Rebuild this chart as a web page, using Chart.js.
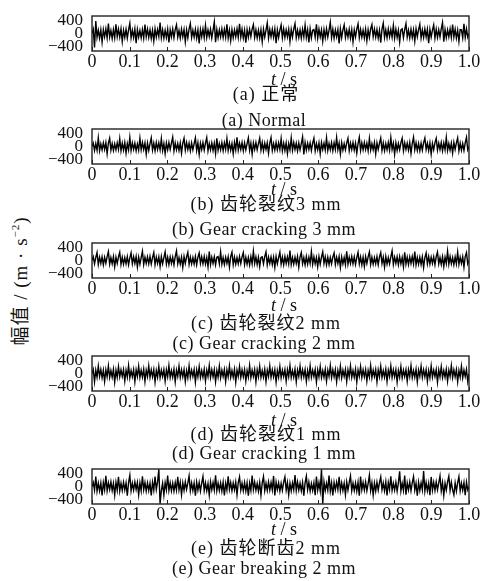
<!DOCTYPE html>
<html>
<head>
<meta charset="utf-8">
<script src="https://cdn.jsdelivr.net/npm/chart.js@4.4.0/dist/chart.umd.min.js"></script>
<style>
  body { margin: 0; background: #fff; }
  #fig {
    position: relative; width: 490px; height: 581px; overflow: hidden;
    font-family: 'Liberation Serif', 'Noto Sans CJK SC', serif; color: #111;
  }
  #fig canvas { position: absolute; left: 0; }
  .cap { position: absolute; white-space: nowrap; text-align: center; line-height: 20px; }
  .cap.unit { font-size: 18px; left: 0; width: 568px; }
  .cap.zh { font-size: 18px; letter-spacing: 1px; left: 0; width: 532px; }
  .cap.en { font-size: 18px; letter-spacing: 0.5px; left: 0; width: 528px; }
  #ytitle {
    position: absolute; left: 18px; top: 281px; font-size: 19px; letter-spacing: 1px; white-space: nowrap;
    transform: translate(-50%, -50%) rotate(-90deg);
  }
  #ytitle sup { font-size: 11px; }
</style>
</head>
<body>
<div id="fig">
  <div id="ytitle">幅值 / (m · s<sup>−2</sup>)</div>
</div>
<script>
// tick values
const xTicks = [0, 0.1, 0.2, 0.3, 0.4, 0.5, 0.6, 0.7, 0.8, 0.9, 1.0];
const yTicks = [400, 0, -400];

const titlesZh = ['(a)  正常', '(b)  齿轮裂纹3 mm', '(c)  齿轮裂纹2 mm', '(d)  齿轮裂纹1 mm', '(e)  齿轮断齿2 mm'];
const titlesEn = ['(a)  Normal', '(b)  Gear cracking 3 mm', '(c)  Gear cracking 2 mm', '(d)  Gear cracking 1 mm', '(e)  Gear breaking 2 mm'];

// acceleration samples, 300 per second
const normalData = [
  0, 130, -420, 380, -120, 100, -140, 110, -260, 120, -100, 140, -130, 300, -110, 90, -150, 120, -130, 280,
  -100, 130, -110, 140, -240, 100, -120, 130, -140, 110, 310, -130, 100, -120, 140, -290, 120, -110, 90, -130,
  120, -140, 270, -100, 130, -120, 110, -150, 100, -230, 140, -110, 120, -90, 330, -130, 110, -140, 100, -120,
  130, -270, 110, -100, 140, -130, 120, 260, -110, 90, -140, 130, -100, 120, -250, 110, -130, 140, 300, -120,
  100, -110, 130, -140, 110, -300, 120, -100, 140, -130, 240, -120, 110, -90, 130, -140, 100, 350, -260, 120,
  -130, 110, -100, 140, -120, 130, -110, 280, -140, 100, -220, 120, -130, 110, -100, 140, -120, 290, -110, 130,
  -140, 100, -280, 120, -110, 130, -90, 140, 270, -120, 110, -130, 100, -140, 120, -250, 130, -110, 100, 320,
  -140, 120, -100, 130, -110, 140, -290, 110, -120, 100, 260, -130, 140, -120, 110, -100, 130, -240, 120, -110,
  140, 300, -130, 100, -120, 110, -140, 130, -100, 250, -120, 110, -270, 140, -130, 100, 120, -110, 280, -140,
  130, -100, 110, -230, 120, -130, 140, -110, 100, 340, -120, 130, -140, 110, -100, 120, -300, 140, -130, 110,
  260, -120, 100, -110, 130, -140, 120, -250, 110, -100, 140, 290, -130, 120, -110, 100, -140, 130, -220, 110,
  -120, 140, 270, -100, 130, -110, 120, -140, 100, -280, 130, 310, -120, 110, -130, 140, -100, 120, -110, 240,
  -140, 130, -120, 100, -260, 110, 140, -130, 120, 300, -110, 100, -140, 130, -120, 110, -230, 140, -100, 120,
  280, -130, 110, -120, 140, -100, 130, -290, 120, -110, 100, 260, -140, 130, -120, 110, -100, 140, 330, -250,
  120, -130, 110, -100, 140, -120, 270, -110, 130, -140, 100, -240, 120, 110, -130, 290, -120, 140, -110, 0
];
const crack3Data = [
  0, 100, -120, 90, -110, 260, -130, 80, -100, 110, -90, 120, -220, 100, 250, -110, 90, -120, 80, -100,
  110, -90, 240, -130, 100, -110, 120, -200, 90, -100, 270, -120, 110, -90, 100, -130, 80, -110, 250, -100,
  120, -90, 110, -230, 100, -120, 90, 260, -110, 100, -130, 120, -90, 110, -100, 240, -120, 90, -210, 110,
  -100, 120, -90, 100, 280, -130, 110, -100, 90, -120, 110, -200, 100, 250, -110, 120, -90, 100, -130, 110,
  -100, 90, 260, -120, 110, -240, 100, -90, 120, -110, 100, 270, -130, 90, -100, 110, -120, 100, -210, 250,
  -110, 90, -100, 120, -130, 110, -90, 240, -120, 100, -110, 90, -220, 120, -100, 280, -110, 100, -90, 120,
  -130, 110, -100, 90, 260, -120, 100, -230, 110, -90, 120, -100, 90, 250, -110, 120, -130, 100, -90, 110,
  -200, 100, 270, -120, 90, -110, 120, -100, 110, -90, 240, -130, 100, -120, 110, -210, 90, -100, 260, -110,
  120, -90, 100, -130, 110, -100, 90, 290, -240, 120, -110, 100, -90, 110, -120, 100, 250, -130, 90, -100,
  110, -220, 120, -90, 100, -110, 260, -120, 90, -100, 120, -130, 110, -90, 270, -100, 100, -230, 120, -110,
  90, -100, 110, 250, -130, 100, -90, 120, -110, 100, -200, 90, 280, -120, 110, -100, 120, -90, 100, -130,
  240, -110, 90, -100, 120, -220, 110, -90, 100, 260, -120, 110, -130, 90, -100, 120, -110, 270, -90, 100,
  -240, 110, -120, 90, -100, 120, 250, -130, 110, -90, 100, -110, 120, -210, 90, 280, -100, 110, -120, 90,
  -130, 100, -110, 120, 260, -90, 100, -120, 110, -230, 90, -100, 120, 250, -110, 100, -90, 120, -130, 110,
  -100, 270, -120, 90, -110, 100, -200, 120, -90, 110, 260, -130, 100, -110, 90, -120, 110, 280, -100, 0
];
const crack2Data = [
  0, 110, -100, 90, 240, -120, 100, -90, 110, -130, 100, -80, 120, 270, -110, 90, -100, 120, -190, 100,
  -90, 110, 250, -120, 100, -110, 90, -100, 120, -130, 80, 230, -100, 110, -90, 120, -200, 100, -110, 90,
  280, -120, 100, -90, 110, -100, 120, -110, 90, 240, -130, 100, -90, 110, -180, 120, -100, 90, 260, -110,
  100, -120, 110, -90, 100, -130, 120, 290, -100, 90, -110, 100, -210, 120, -90, 110, 250, -120, 100, -100,
  90, -110, 120, -130, 100, 230, -90, 110, -100, 120, -110, 90, -190, 270, -120, 100, -90, 110, -130, 100,
  120, -100, 260, -110, 90, -120, 100, -90, 110, -200, 120, 250, -130, 100, -110, 90, -100, 120, -90, 110,
  240, -120, 100, -110, 90, -130, 120, -100, 280, -90, 110, -120, 100, -180, 90, 110, -100, 120, 260, -130,
  100, -90, 110, -120, 100, -210, 120, -100, 90, 250, -110, 100, -130, 120, -90, 110, -100, 300, -120, 90,
  -110, 100, -90, 120, -200, 110, 240, -100, 90, -130, 120, -110, 100, -90, 270, -120, 110, -100, 90, -190,
  120, -110, 100, 260, -90, 110, -130, 100, -120, 90, -100, 110, 230, -120, 100, -90, 120, -210, 110, -100,
  90, -130, 280, -110, 100, -90, 120, -100, 110, -120, 90, 250, -100, 110, -130, 100, -180, 120, -90, 110,
  260, -120, 100, -110, 90, -100, 120, -130, 110, 240, -90, 100, -200, 120, -110, 90, -100, 110, 290, -120,
  100, -90, 110, -130, 120, -100, 90, -190, 250, -110, 100, -120, 110, -90, 120, -100, 270, -130, 90, -110,
  100, -120, 110, -210, 90, 230, -100, 120, -110, 100, -90, 110, -130, 120, 260, -100, 90, -120, 110, -180,
  100, -90, 280, -110, 120, -100, 90, -130, 110, -100, 250, -120, 100, -90, 110, -200, 120, 240, -100, 0
];
const crack1Data = [
  0, 120, -250, 100, -110, 220, -90, 120, -130, 100, -240, 110, -100, 230, -120, 90, -110, 130, -260, 100,
  -120, 210, -100, 110, -90, 120, -230, 100, -110, 240, -130, 90, -100, 120, -250, 110, -90, 220, -120, 100,
  -110, 130, -240, 100, -90, 230, -120, 110, -100, 120, -260, 90, -110, 210, -130, 100, -90, 120, -230, 110,
  -100, 240, -120, 90, -110, 130, -250, 100, -90, 220, -120, 110, -100, 120, -240, 90, -130, 230, -110, 100,
  -90, 120, -260, 110, -100, 210, -120, 90, -110, 130, -230, 100, -90, 240, -120, 110, -100, 120, -250, 90,
  -110, 220, -130, 100, -90, 120, -240, 110, -100, 230, -120, 90, -110, 130, -260, 100, -90, 210, -120, 110,
  -100, 120, -230, 90, -110, 240, -130, 100, -90, 120, -250, 110, -100, 220, -120, 90, -110, 130, -240, 100,
  -90, 230, -120, 110, -100, 120, -260, 90, -110, 210, -130, 100, -90, 120, -230, 110, -100, 240, -120, 90,
  -110, 130, -250, 100, -90, 220, -120, 110, -100, 120, -240, 90, -130, 230, -110, 100, -90, 120, -260, 110,
  -100, 210, -120, 90, -110, 130, -230, 100, -90, 240, -120, 110, -100, 120, -250, 90, -110, 220, -130, 100,
  -90, 120, -240, 110, -100, 230, -120, 90, -110, 130, -260, 100, -90, 210, -120, 110, -100, 120, -230, 90,
  -110, 240, -130, 100, -90, 120, -250, 110, -100, 220, -120, 90, -110, 130, -240, 100, -90, 230, -120, 110,
  -100, 120, -260, 90, -110, 210, -130, 100, -90, 120, -230, 110, -100, 240, -120, 90, -110, 130, -250, 100,
  -90, 220, -120, 110, -100, 120, -240, 90, -130, 230, -110, 100, -90, 120, -260, 110, -100, 210, -120, 90,
  -110, 130, -230, 100, -90, 240, -120, 110, -100, 120, -250, 90, -110, 220, -130, 100, -90, 120, -240, 0
];
const breakData = [
  0, 120, -110, 300, -140, 100, -130, 110, -270, 120, -100, 320, -130, 110, -90, 140, -120, 100, -260, 130,
  -110, 290, -140, 100, -120, 130, -100, 110, -280, 120, 340, -130, 100, -110, 140, -90, 120, -250, 110, -130,
  310, -100, 120, -140, 110, -120, 100, -270, 130, -110, 300, -90, 140, 520, -520, -130, 100, -260, 120, -100,
  330, -120, 110, -130, 100, -140, 120, -110, 290, -100, 130, -250, 110, -120, 140, -90, 100, 320, -130, 110,
  -120, 100, -280, 130, -110, 120, -140, 100, 300, -120, 110, -130, 90, -260, 140, -100, 120, -110, 340, -130,
  100, -120, 110, -140, 130, -270, 100, -110, 310, -90, 120, -130, 110, -100, 140, -250, 120, 290, -110, 100,
  -130, 120, -140, 110, -280, 100, -120, 330, -100, 130, -110, 90, -140, 120, -260, 110, 300, -130, 100, -120,
  140, -110, 120, -100, 320, -270, 130, -90, 110, -140, 100, -120, 130, 290, -110, 120, -250, 100, -130, 110,
  -100, 350, -120, 140, -110, 100, -130, 120, -280, 110, 310, -100, 130, -140, 90, -120, 110, -260, 300, -110,
  120, -130, 520, -520, 140, -120, 100, -110, 330, -140, 110, -270, 120, -100, 130, -90, 290, -130, 110, -120,
  100, -250, 140, -110, 120, 320, -130, 100, -120, 110, -140, 130, -280, 300, -100, 120, -110, 140, -130, 90,
  340, -120, 110, -260, 100, -140, 130, -110, 120, 290, -100, 110, -130, 140, -270, 120, -90, 310, -120, 100,
  -110, 130, -140, 110, 460, -130, 100, -120, 330, -250, 110, -100, 140, -130, 120, 300, -110, 100, -280, 130,
  -120, 110, -100, 470, -140, 120, -130, 100, -260, 290, -110, 130, -120, 140, -100, 110, 320, -130, 120, -270,
  100, -110, 140, 310, -120, 130, -100, -250, 110, -140, 120, 300, -130, 100, -110, 120, -260, 130, -100, 0
];
const panelData = [normalData, crack3Data, crack2Data, crack1Data, breakData];

const fig = document.getElementById('fig');
const xFont = { family: "'Liberation Serif', serif", size: 18 };
const yFont = { family: "'Liberation Serif', serif", size: 17 };

// layout of the five panels (box top, caption centre lines)
const boxTops = [16, 129, 243, 356, 469];
const captionY = [[79, 94, 120], [189, 204, 229], [305, 323, 343], [420, 434, 453], [529, 548, 568]];

// frame + inward ticks on the bottom edge
const framePlugin = {
  id: 'frame',
  afterDraw(chart) {
    const { ctx, chartArea: a } = chart;
    const x = chart.scales.x;
    ctx.save();
    ctx.strokeStyle = '#222';
    ctx.lineWidth = 1.4;
    ctx.strokeRect(a.left, a.top, a.right - a.left, a.bottom - a.top);
    ctx.lineWidth = 1;
    x.ticks.forEach(t => {
      const px = Math.round(x.getPixelForValue(t.value)) + 0.5;
      ctx.beginPath();
      ctx.moveTo(px, a.bottom);
      ctx.lineTo(px, a.bottom - 4);
      ctx.stroke();
    });
    ctx.restore();
  }
};

function addCaption(cls, html, cy) {
  const d = document.createElement('div');
  d.className = 'cap ' + cls;
  d.innerHTML = html;
  d.style.top = (cy - 10) + 'px';
  fig.appendChild(d);
}

panelData.forEach((values, i) => {
  const canvas = document.createElement('canvas');
  canvas.width = 490;
  canvas.height = 67;
  canvas.style.top = (boxTops[i] - 10) + 'px';
  fig.appendChild(canvas);

  const points = values.map((v, k) => ({ x: k / (values.length - 1), y: v }));

  new Chart(canvas, {
    type: 'line',
    data: {
      datasets: [{
        data: points,
        borderColor: '#000',
        borderWidth: 1.4,
        pointRadius: 0,
        tension: 0,
        fill: false
      }]
    },
    options: {
      responsive: false,
      animation: false,
      events: [],
      layout: { padding: { top: 10, right: 21, left: 0, bottom: 0 } },
      plugins: { legend: { display: false }, tooltip: { enabled: false } },
      scales: {
        x: {
          type: 'linear',
          min: 0,
          max: 1,
          afterBuildTicks: s => { s.ticks = xTicks.map(v => ({ value: v })); },
          afterFit: s => { s.height = 22; },
          grid: { display: false, drawTicks: false },
          border: { display: false },
          ticks: {
            padding: 0,
            color: '#111',
            font: xFont,
            maxRotation: 0,
            autoSkip: false,
            callback: v => (v === 0 ? '0' : v.toFixed(1))
          }
        },
        y: {
          min: -530,
          max: 530,
          afterBuildTicks: s => { s.ticks = yTicks.map(v => ({ value: v })); },
          afterFit: s => { s.width = 92; s.paddingTop = 0; s.paddingBottom = 0; },
          grid: { display: false, drawTicks: false },
          border: { display: false },
          ticks: {
            padding: 9,
            color: '#111',
            font: yFont,
            autoSkip: false,
            callback: v => (v < 0 ? '\u2212' + Math.abs(v) : String(v))
          }
        }
      }
    },
    plugins: [framePlugin]
  });

  addCaption('unit', '<i>t</i> / s', captionY[i][0]);
  addCaption('zh', titlesZh[i], captionY[i][1]);
  addCaption('en', titlesEn[i], captionY[i][2]);
});
</script>
</body>
</html>
